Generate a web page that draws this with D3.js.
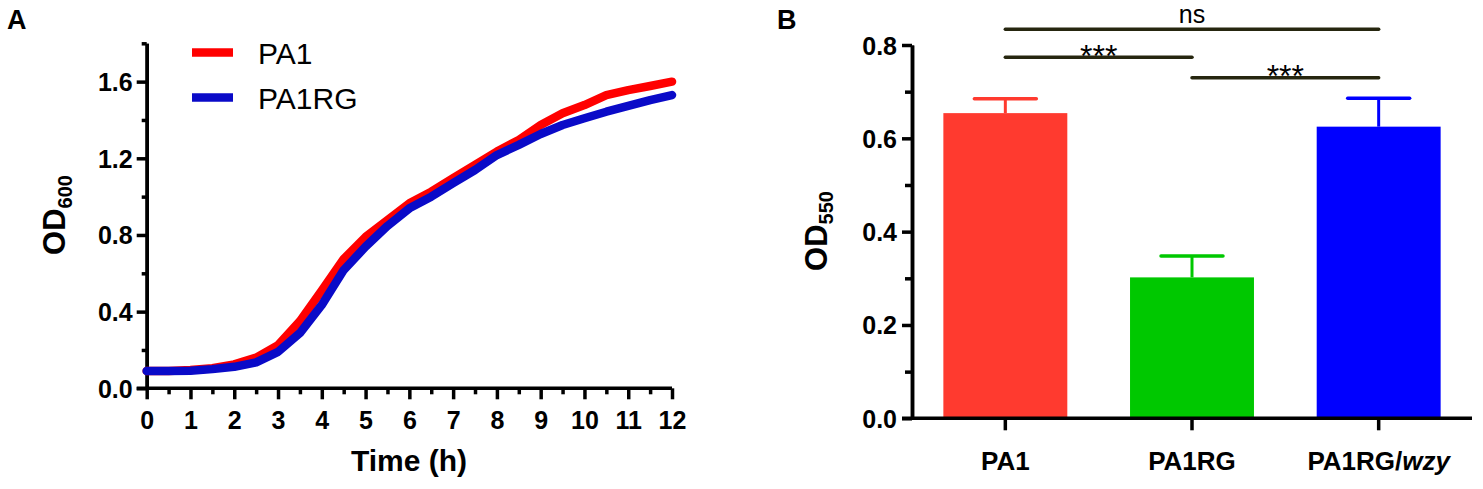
<!DOCTYPE html>
<html lang="en">
<head>
  <meta charset="UTF-8">
  <title>Growth curve and biofilm OD</title>
  <script src="https://d3js.org/d3.v7.min.js"></script>
  <style>
    body {
      margin: 0;
      padding: 0;
      background: #fff;
      font-family: 'Liberation Sans', Arial, sans-serif;
    }
    .axis path, .axis line {
      stroke: #000;
      stroke-width: 3.5px;
    }
    .axis text {
      font-family: 'Liberation Sans', Arial, sans-serif;
      font-weight: bold;
      font-size: 25px;
      fill: #000;
    }
    .curve {
      fill: none;
      stroke-width: 8.5px;
      stroke-linejoin: round;
      stroke-linecap: round;
    }
  </style>
</head>
<body>
  <svg id="chart"></svg>

  <script>
    // panel A: growth curve
    const hours = [0, 0.5, 1, 1.5, 2, 2.5, 3, 3.5, 4, 4.5, 5, 5.5, 6, 6.5, 7, 7.5, 8, 8.5, 9, 9.5, 10, 10.5, 11, 11.5, 12];
    const pa1OD = [0.09, 0.09, 0.095, 0.105, 0.125, 0.16, 0.225, 0.35, 0.51, 0.675, 0.79, 0.878, 0.965, 1.026, 1.096, 1.165, 1.235, 1.296, 1.374, 1.435, 1.478, 1.53, 1.556, 1.577, 1.60];
    const pa1rgOD = [0.09, 0.09, 0.092, 0.10, 0.112, 0.135, 0.19, 0.288, 0.435, 0.617, 0.739, 0.847, 0.939, 1.0, 1.07, 1.139, 1.217, 1.27, 1.327, 1.374, 1.409, 1.443, 1.473, 1.504, 1.53];
    const curveNames = ["PA1", "PA1RG"];
    const curveColors = ["#ff0000", "#0a0ac8"];
    const xTicksA = [0, 1, 2, 3, 4, 5, 6, 7, 8, 9, 10, 11, 12];
    const xMinorA = [0.5, 1.5, 2.5, 3.5, 4.5, 5.5, 6.5, 7.5, 8.5, 9.5, 10.5, 11.5];
    const yTicksA = [0, 0.4, 0.8, 1.2, 1.6];
    const yMinorA = [0.2, 0.6, 1.0, 1.4, 1.8];

    // panel B: biofilm bars
    const strains = ["PA1", "PA1RG", "PA1RG/wzy"];
    const biofilmMean = [0.654, 0.302, 0.625];
    const biofilmSem = [0.031, 0.046, 0.061];
    const barColors = ["#ff3a2f", "#00c800", "#0000ff"];
    const yTicksB = [0, 0.2, 0.4, 0.6, 0.8];
    const yMinorB = [0.1, 0.3, 0.5, 0.7];
    const comparisons = [
      { from: 0, to: 2, level: 0.834, label: "ns" },
      { from: 0, to: 1, level: 0.774, label: "***" },
      { from: 1, to: 2, level: 0.730, label: "***" }
    ];

    const W = 1483, H = 489;
    const svg = d3.select("#chart").attr("width", W).attr("height", H);

    // ---------- panel A ----------
    const xA = d3.scaleLinear().domain([0, 12]).range([146.7, 672]);
    const yA = d3.scaleLinear().domain([0, 1.8]).range([388.3, 43.3]);

    const gA = svg.append("g");

    gA.append("text")
      .attr("x", 7).attr("y", 29)
      .style("font-weight", "bold").style("font-size", "27px")
      .text("A");

    // x axis
    const xAxisA = gA.append("g").attr("class", "axis")
      .attr("transform", `translate(0,${yA(0)})`)
      .call(d3.axisBottom(xA).tickValues(xTicksA).tickFormat(d3.format("d")).tickSize(11).tickPadding(12.4).tickSizeOuter(0));
    xAxisA.select(".domain").remove();
    gA.append("g").attr("class", "axis")
      .attr("transform", `translate(0,${yA(0)})`)
      .call(d3.axisBottom(xA).tickValues(xMinorA).tickFormat("").tickSize(6).tickSizeOuter(0))
      .select(".domain").remove();
    gA.append("line")
      .attr("x1", xA.range()[0] - 10).attr("x2", xA.range()[1])
      .attr("y1", yA(0)).attr("y2", yA(0))
      .attr("stroke", "#000").attr("stroke-width", 3.5);

    // y axis
    gA.append("g").attr("class", "axis")
      .attr("transform", `translate(${xA(0)},0)`)
      .call(d3.axisLeft(yA).tickValues(yTicksA).tickFormat(d3.format(".1f")).tickSize(10).tickPadding(4).tickSizeOuter(0))
      .selectAll("text").attr("dy", "0.36em");
    gA.append("g").attr("class", "axis")
      .attr("transform", `translate(${xA(0)},0)`)
      .call(d3.axisLeft(yA).tickValues(yMinorA).tickFormat("").tickSize(5).tickSizeOuter(0));

    const line = d3.line()
      .x((d, i) => xA(hours[i]))
      .y(d => yA(d));

    [pa1OD, pa1rgOD].forEach((series, k) => {
      gA.append("path")
        .datum(series)
        .attr("class", "curve")
        .attr("stroke", curveColors[k])
        .attr("d", line);
    });

    // legend
    const legend = gA.append("g").attr("transform", "translate(192,52.5)");
    curveNames.forEach((name, i) => {
      const row = legend.append("g").attr("transform", `translate(0,${i * 45})`);
      row.append("line")
        .attr("x1", 0).attr("x2", 41)
        .attr("stroke", curveColors[i]).attr("stroke-width", 8.5);
      row.append("text")
        .attr("x", 66).attr("y", 11)
        .style("font-size", "30px")
        .text(name);
    });

    gA.append("text")
      .attr("x", 409).attr("y", 471)
      .attr("text-anchor", "middle")
      .style("font-weight", "bold").style("font-size", "30px")
      .text("Time (h)");

    const odA = gA.append("text")
      .attr("transform", "translate(65,215) rotate(-90)")
      .attr("text-anchor", "middle")
      .style("font-weight", "bold").style("font-size", "31px");
    odA.append("tspan").text("OD");
    odA.append("tspan").attr("dy", 7).style("font-size", "20px").text("600");

    // ---------- panel B ----------
    const xB = d3.scaleBand().domain(strains).range([912, 1472]).paddingInner(0.336).paddingOuter(0.168);
    const yB = d3.scaleLinear().domain([0, 0.8]).range([418.3, 45]);

    const gB = svg.append("g");

    gB.append("text")
      .attr("x", 777).attr("y", 29)
      .style("font-weight", "bold").style("font-size", "27px")
      .text("B");

    // bars
    gB.selectAll(".bar")
      .data(strains)
      .enter().append("rect")
      .attr("class", "bar")
      .attr("x", d => xB(d))
      .attr("width", xB.bandwidth())
      .attr("y", (d, i) => yB(biofilmMean[i]))
      .attr("height", (d, i) => yB(0) - yB(biofilmMean[i]))
      .attr("fill", (d, i) => barColors[i]);

    // error bars (upper only)
    strains.forEach((s, i) => {
      const cx = xB(s) + xB.bandwidth() / 2;
      const top = yB(biofilmMean[i] + biofilmSem[i]);
      gB.append("line")
        .attr("x1", cx).attr("x2", cx)
        .attr("y1", yB(biofilmMean[i])).attr("y2", top)
        .attr("stroke", barColors[i]).attr("stroke-width", 3);
      gB.append("line")
        .attr("x1", cx - xB.bandwidth() / 4).attr("x2", cx + xB.bandwidth() / 4)
        .attr("y1", top).attr("y2", top)
        .attr("stroke", barColors[i]).attr("stroke-width", 3.5)
        .attr("stroke-linecap", "round");
    });

    // axes
    const xAxisB = gB.append("g").attr("class", "axis")
      .attr("transform", `translate(0,${yB(0)})`)
      .call(d3.axisBottom(xB).tickSize(12).tickPadding(21).tickSizeOuter(0));
    xAxisB.select(".domain").remove();
    xAxisB.selectAll("text")
      .style("font-size", "26px")
      .each(function(d) {
        const parts = d.split("/");
        if (parts.length > 1) {
          const t = d3.select(this).text(null);
          t.append("tspan").text(parts[0] + "/");
          t.append("tspan").style("font-style", "italic").text(parts[1]);
        }
      });
    gB.append("line")
      .attr("x1", xB.range()[0] - 10).attr("x2", xB.range()[1])
      .attr("y1", yB(0)).attr("y2", yB(0))
      .attr("stroke", "#000").attr("stroke-width", 3.5);

    gB.append("g").attr("class", "axis")
      .attr("transform", `translate(${xB.range()[0]},0)`)
      .call(d3.axisLeft(yB).tickValues(yTicksB).tickFormat(d3.format(".1f")).tickSize(10).tickPadding(5).tickSizeOuter(0))
      .selectAll("text").attr("dy", "0.36em");
    gB.append("g").attr("class", "axis")
      .attr("transform", `translate(${xB.range()[0]},0)`)
      .call(d3.axisLeft(yB).tickValues(yMinorB).tickFormat("").tickSize(7).tickSizeOuter(0));

    // significance brackets
    comparisons.forEach(c => {
      const x1 = xB(strains[c.from]) + xB.bandwidth() / 2;
      const x2 = xB(strains[c.to]) + xB.bandwidth() / 2;
      const yy = yB(c.level);
      gB.append("line")
        .attr("x1", x1).attr("x2", x2)
        .attr("y1", yy).attr("y2", yy)
        .attr("stroke", "#26260f").attr("stroke-width", 3.5)
        .attr("stroke-linecap", "round");
      const isNs = c.label === "ns";
      gB.append("text")
        .attr("x", (x1 + x2) / 2)
        .attr("y", isNs ? yy - 6.5 : yy + 9.5)
        .attr("text-anchor", "middle")
        .style("font-size", isNs ? "25px" : "32px")
        .text(c.label);
    });

    const odB = gB.append("text")
      .attr("transform", "translate(827,231) rotate(-90)")
      .attr("text-anchor", "middle")
      .style("font-weight", "bold").style("font-size", "31px");
    odB.append("tspan").text("OD");
    odB.append("tspan").attr("dy", 6).style("font-size", "20px").text("550");
  </script>
</body>
</html>
